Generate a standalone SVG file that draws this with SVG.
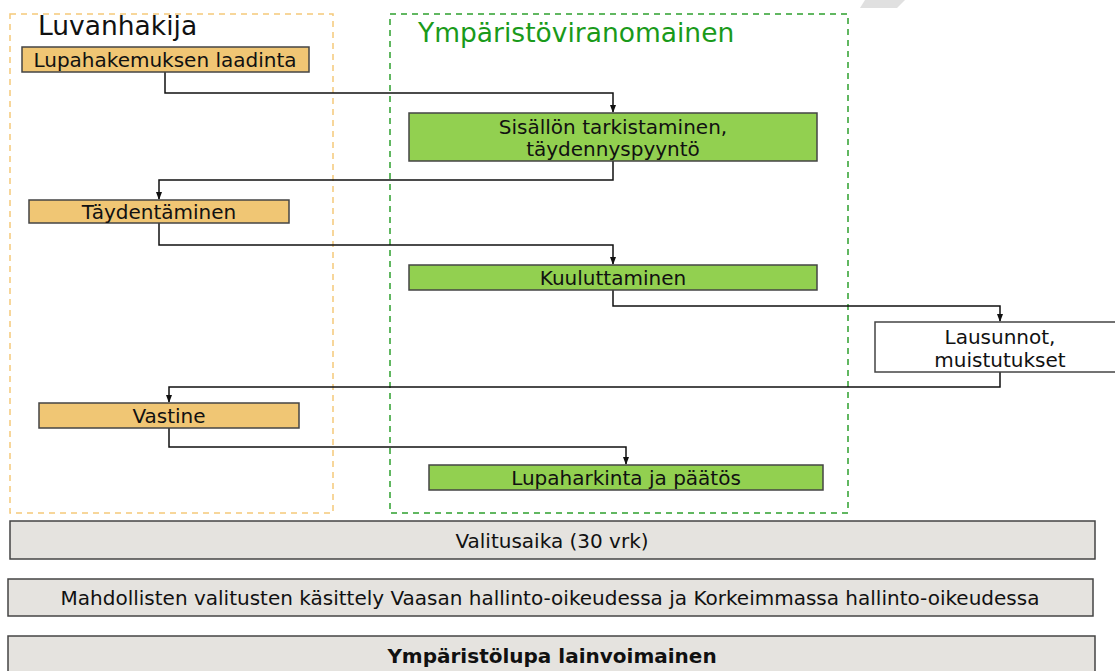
<svg xmlns="http://www.w3.org/2000/svg" width="1115" height="671" viewBox="0 0 1115 671">
<style>
text{font-family:"DejaVu Sans","Verdana",sans-serif;font-size:20px;fill:#111;text-anchor:middle}
.t{font-size:26.5px;text-anchor:start}
.orange{fill:#f0c674;stroke:#444;stroke-width:1.5}
.green{fill:#92d050;stroke:#444;stroke-width:1.5}
.white{fill:#fff;stroke:#444;stroke-width:1.5}
.gray{fill:#e5e3df;stroke:#444;stroke-width:1.5}
.lane{fill:none;stroke-width:1.5;stroke-dasharray:6 5}
.conn{fill:none;stroke:#111;stroke-width:1.5}
</style>
<defs>
<marker id="arr" markerWidth="8" markerHeight="10" refX="7" refY="4" orient="auto" markerUnits="userSpaceOnUse" viewBox="0 0 8 8">
<path d="M0,1 L8,4 L0,7 z" fill="#111"/>
</marker>
</defs>
<rect width="1115" height="671" fill="#fff"/>
<polygon points="865,0 905,0 897,8 860,8" fill="#e0e0e0"/>
<g id="lane-luvanhakija">
<rect class="lane" x="10" y="14" width="323" height="499" stroke="#f5c97a"/>
<text class="t" x="38" y="35">Luvanhakija</text>
</g>
<g id="lane-ymparistoviranomainen">
<rect class="lane" x="390" y="14" width="458" height="499" stroke="#2ea02e"/>
<text class="t" x="418" y="42" style="fill:#1a9a1a">Ympäristöviranomainen</text>
</g>
<g id="connectors">
<path class="conn" d="M165,72 V93 H613 V112" marker-end="url(#arr)"/>
<path class="conn" d="M613,161 V180 H159 V199" marker-end="url(#arr)"/>
<path class="conn" d="M159,223 V245 H613 V264" marker-end="url(#arr)"/>
<path class="conn" d="M613,290 V306 H1000 V321" marker-end="url(#arr)"/>
<path class="conn" d="M1000,372 V387 H169 V402" marker-end="url(#arr)"/>
<path class="conn" d="M169,428 V447 H626 V464" marker-end="url(#arr)"/>
</g>
<g id="n1"><rect class="orange" x="22" y="47" width="287" height="25"/><text x="165" y="67">Lupahakemuksen laadinta</text></g>
<g id="n2"><rect class="green" x="409" y="113" width="408" height="48"/><text x="613" y="134">Sisällön tarkistaminen,</text><text x="613" y="156">täydennyspyyntö</text></g>
<g id="n3"><rect class="orange" x="29" y="200" width="260" height="23"/><text x="159" y="219">Täydentäminen</text></g>
<g id="n4"><rect class="green" x="409" y="265" width="408" height="25"/><text x="613" y="285">Kuuluttaminen</text></g>
<g id="n5"><rect class="white" x="875" y="322" width="245" height="50"/><text x="1000" y="344">Lausunnot,</text><text x="1000" y="367">muistutukset</text></g>
<g id="n6"><rect class="orange" x="39" y="403" width="260" height="25"/><text x="169" y="423">Vastine</text></g>
<g id="n7"><rect class="green" x="429" y="465" width="394" height="25"/><text x="626" y="485">Lupaharkinta ja päätös</text></g>
<g id="b1"><rect class="gray" x="10" y="521" width="1085" height="38"/><text x="552" y="548">Valitusaika (30 vrk)</text></g>
<g id="b2"><rect class="gray" x="8" y="579" width="1085" height="37"/><text x="550" y="605">Mahdollisten valitusten käsittely Vaasan hallinto-oikeudessa ja Korkeimmassa hallinto-oikeudessa</text></g>
<g id="b3"><rect class="gray" x="8" y="636" width="1087" height="40"/><text x="552" y="663" style="font-weight:bold">Ympäristölupa lainvoimainen</text></g>
</svg>
